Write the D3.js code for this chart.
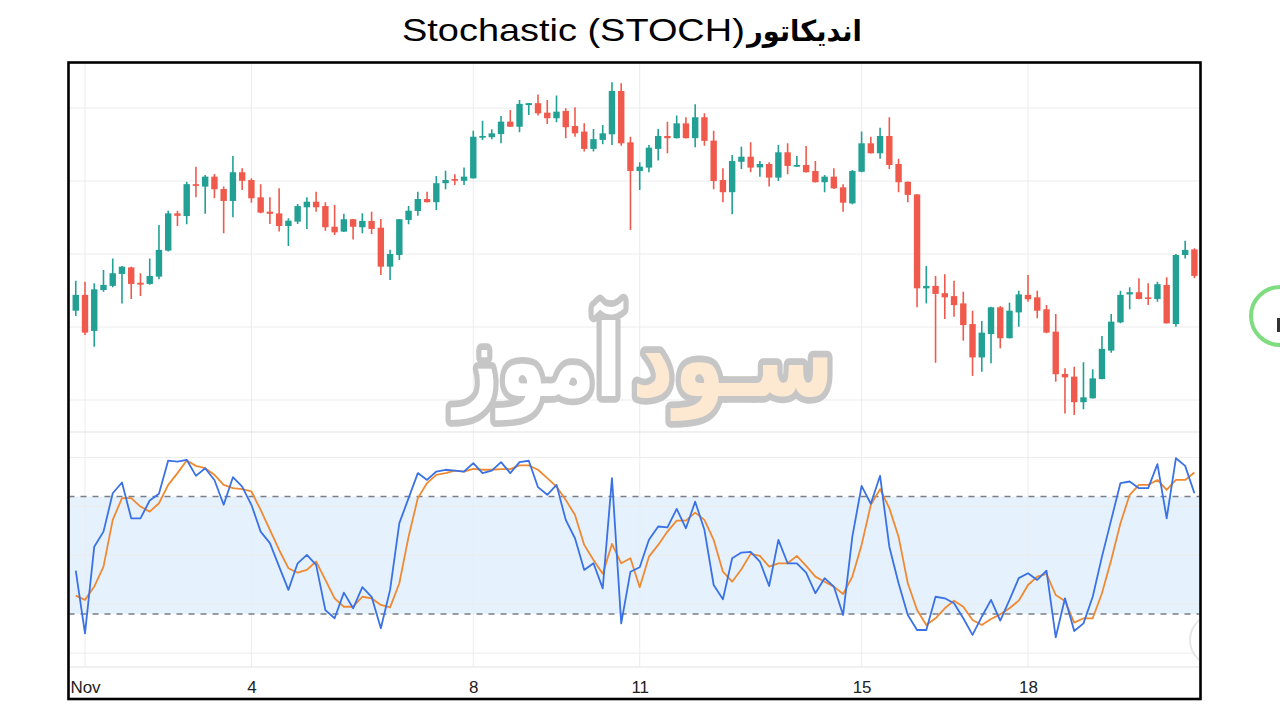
<!DOCTYPE html>
<html><head><meta charset="utf-8">
<script src="https://cdn.jsdelivr.net/npm/d3@7"></script>
<style>html,body{margin:0;padding:0;background:#fff;} svg{display:block}</style>
</head><body>
<svg id="c" width="1280" height="720"></svg>
<script>
// 4-hour candles, first one is Oct 31 20:00 UTC
const startTime = Date.UTC(2021, 9, 31, 20);
const stepHours = 4;
const openP = [59670,60320,58840,60520,60690,61180,61450,60820,60770,61070,62140,63670,63560,64870,64770,65180,64670,64180,65360,65040,64330,63740,63670,63150,63330,63920,64150,63970,63120,62920,63430,63100,63360,63080,61480,61960,63400,63770,64260,64130,64910,65080,65010,65110,66780,66800,66930,67440,67230,68120,68200,67810,67580,67880,67260,67030,66320,66690,66920,68700,66590,65410,65550,66320,66850,66760,67370,66760,67620,66660,65040,64540,65790,66000,65560,65700,65140,66180,65590,65660,65410,64950,65180,64740,64080,65380,66550,66140,66850,65700,64970,64450,60590,60690,60390,60270,59970,59120,57750,58710,59810,58540,59600,60320,60220,59730,58810,57070,56960,55910,56070,56860,58030,59190,60340,60430,60220,60150,60730,59120,61960,62190];
const highP = [60900,60860,60800,61340,61820,61510,61480,61210,61820,63190,63780,63780,64970,65590,65250,65290,64770,66030,65520,65110,64870,64330,64700,63470,64060,64330,64560,64130,64010,63650,63440,63670,63740,63440,62170,63440,63970,64560,64560,65210,65420,65280,65560,67070,67480,67130,67670,67920,68330,68210,68560,68330,68510,67990,68030,67370,67140,67300,69060,69020,66820,65770,66480,67140,67440,67690,67620,68150,67780,67070,65520,66070,66410,66590,65820,65770,66480,66550,66030,66440,65820,65250,65520,64870,65450,67030,66820,67190,67620,65910,64980,64460,61510,61100,61170,60900,60450,59670,59250,59830,59860,60000,60490,61140,60490,59900,59530,57300,57370,57550,57260,58630,59530,60490,60630,61000,60800,60860,61040,62000,62550,62240];
const lowP = [59450,58670,58190,60450,60630,59970,60150,60270,60740,60960,62100,63150,63220,64330,63650,64290,62850,63510,64630,64110,63680,63230,62920,62330,63230,63030,63740,62960,62780,62900,62600,62850,62820,61140,60930,61750,63220,63570,64120,63810,64660,64840,64840,65100,66690,66720,66550,67220,67000,67710,67690,67340,67410,66760,66820,66210,66210,66510,66480,66450,62990,64630,65360,65840,66140,66750,66750,66390,66450,64660,64130,63630,65490,65360,65180,64770,65000,65280,65580,65350,64940,64540,64670,63740,64040,65360,66130,65910,65490,64540,64130,59810,59970,57530,59330,59420,58440,56990,57160,57510,58120,58530,59010,60040,59360,58740,56750,55450,55380,55620,56060,56850,57940,59150,59730,60140,59900,60040,59140,59010,61820,61000];
const closeP = [60320,58770,60550,60730,61210,61480,60770,60740,61100,62170,63670,63570,64870,64800,65180,64660,64180,65360,65010,64290,63700,63650,63150,63370,63970,64150,63920,63100,62890,63430,63120,63360,63030,61480,62000,63430,63780,64260,64130,64910,65040,65010,65180,66820,66850,66960,67440,67230,68170,68200,67780,67580,67850,67210,66960,66320,66720,66960,68700,66550,65410,65590,66370,66850,66760,67370,66760,67620,66650,65000,64540,65820,66000,65550,65700,65140,66180,65620,65660,65360,64950,65180,64700,64110,65410,66550,66140,66850,65660,64950,64430,60590,60690,60360,60220,59900,59080,57750,58770,59810,58540,59670,60340,60140,59670,58770,57060,56930,55910,56110,56890,58100,59220,60320,60430,60150,60160,60760,59150,61960,62170,61100];
const stochK = [42.1,10.1,54.4,62.1,81.7,87.2,68.9,68.9,78.0,81.4,98.4,97.9,98.8,90.6,94.5,88.5,75.8,89.9,85.1,75.8,62.1,56.2,44.2,32.3,45.9,50.2,45.1,22.0,17.8,30.9,22.9,33.7,28.8,12.7,32.3,66.4,79.2,92.0,88.5,92.8,93.7,93.3,92.8,97.1,92.0,93.3,97.6,92.0,97.6,98.3,84.8,80.9,86.0,68.1,58.7,42.5,45.9,33.1,89.4,15.2,41.6,43.9,57.9,64.7,64.3,73.7,63.8,77.4,63.0,34.8,27.5,48.5,51.4,51.7,46.8,34.3,57.9,45.9,45.9,41.1,30.6,38.3,34.0,19.5,59.5,85.5,76.3,90.6,54.4,35.7,19.5,11.8,11.8,28.8,28.0,25.5,17.8,9.3,18.6,27.2,16.6,27.2,38.3,40.8,37.4,42.1,8.1,28.0,11.3,15.2,28.8,49.3,68.1,86.9,87.7,84.3,84.3,96.6,68.9,99.6,95.7,81.7];
const stochD = [29.4,27.2,34.0,44.2,68.1,79.2,79.2,74.9,72.3,76.6,86.0,92.0,98.4,95.7,94.5,91.1,86.0,84.3,83.8,82.6,73.2,63.0,52.7,43.4,41.1,42.5,46.8,37.4,28.0,23.7,23.7,28.8,28.0,24.6,23.4,35.7,59.5,79.2,86.9,91.1,92.0,93.3,92.8,94.2,93.7,93.7,94.0,94.0,95.9,95.9,93.7,89.4,85.1,78.3,70.6,55.3,47.6,40.5,55.8,45.9,48.5,33.7,49.3,55.3,62.1,67.7,67.7,71.8,68.1,57.9,41.6,36.5,42.9,50.7,49.7,44.2,45.9,45.9,49.7,44.6,39.1,36.5,34.0,30.2,39.1,55.3,75.8,83.8,74.1,59.5,35.7,22.0,14.4,17.8,22.9,26.8,23.7,16.9,14.4,17.4,19.8,22.9,26.8,34.8,39.1,40.5,29.7,26.6,15.6,17.8,17.8,30.6,47.6,66.4,80.9,86.0,86.0,88.5,83.4,88.5,88.5,92.3];
const tickDays = [1, 4, 8, 11, 15, 18];
const tickLabels = ["Nov", "4", "8", "11", "15", "18"];
const priceTicks = [56000, 59000, 62000, 65000, 68000];
const stochTicks = [0, 25, 50, 75, 100];
const bandLevels = [20, 80];
const titleLatin = "Stochastic (STOCH)";
const titlePersian = "اندیکاتور";
const watermarkRight = "سـود";
const watermarkLeft = "آموز";

const times = openP.map((_, i) => new Date(startTime + i * stepHours * 3600e3));
const candles = openP.map((o, i) => ({t: times[i], o, h: highP[i], l: lowP[i], c: closeP[i]}));

const svg = d3.select("#c");
const FX0 = 68.5, FX1 = 1200.5, FY0 = 62.5, FY1 = 699;
const PT = 63, PB = 432, SB = 667;

const x = d3.scaleUtc()
  .domain([new Date(Date.UTC(2021, 10, 1)), new Date(Date.UTC(2021, 10, 18))])
  .range([85, 1028]);
const yP = d3.scaleLinear().domain([54685, 69850]).range([PB, PT]);
const yS = d3.scaleLinear().domain([-7.1, 113]).range([SB, PB]);

function fitWidth(g, textSel, x0, x1, yBase, sy) {
  const b = textSel.node().getBBox();
  const sx = (x1 - x0) / b.width;
  g.attr("transform", `translate(${x0 - b.x * sx},${yBase}) scale(${sx},${sy || 1})`);
}

svg.append("rect").attr("width", 1280).attr("height", 720).attr("fill", "#fff");

const defs = svg.append("defs");
defs.append("clipPath").attr("id", "plotClip").append("rect")
  .attr("x", FX0 + 1).attr("y", FY0 + 1).attr("width", FX1 - FX0 - 2).attr("height", FY1 - FY0 - 2);

const plot = svg.append("g").attr("clip-path", "url(#plotClip)");

plot.append("rect")
  .attr("x", FX0).attr("width", FX1 - FX0)
  .attr("y", yS(bandLevels[1])).attr("height", yS(bandLevels[0]) - yS(bandLevels[1]))
  .attr("fill", "#e5f1fc");

const gridColor = "#ececec";
plot.selectAll(".hgp").data(priceTicks).join("line")
  .attr("x1", FX0).attr("x2", FX1).attr("y1", d => yP(d)).attr("y2", d => yP(d))
  .attr("stroke", gridColor).attr("stroke-width", 1);
plot.selectAll(".hgs").data(stochTicks).join("line")
  .attr("x1", FX0).attr("x2", FX1).attr("y1", d => yS(d)).attr("y2", d => yS(d))
  .attr("stroke", gridColor).attr("stroke-width", 1);
const tickDates = tickDays.map(d => new Date(Date.UTC(2021, 10, d)));
plot.selectAll(".vg").data(tickDates).join("line")
  .attr("x1", d => x(d)).attr("x2", d => x(d)).attr("y1", PT).attr("y2", SB)
  .attr("stroke", gridColor).attr("stroke-width", 1);
plot.append("line").attr("x1", FX0).attr("x2", FX1).attr("y1", PB).attr("y2", PB)
  .attr("stroke", "#e2e2e2").attr("stroke-width", 1.2);
plot.append("line").attr("x1", FX0).attr("x2", FX1).attr("y1", SB).attr("y2", SB)
  .attr("stroke", "#e2e2e2").attr("stroke-width", 1.2);

plot.selectAll(".bl").data(bandLevels).join("line")
  .attr("x1", FX0).attr("x2", FX1).attr("y1", d => yS(d)).attr("y2", d => yS(d))
  .attr("stroke", "#7a7d86").attr("stroke-width", 1.4).attr("stroke-dasharray", "6 6");

function wmWord(txt, fill, x0, x1, yBase, size) {
  const g = plot.append("g");
  const t = g.append("text").attr("x", 0).attr("y", 0).attr("direction", "rtl")
    .attr("font-family", "DejaVu Sans").attr("font-weight", "bold").attr("font-size", size)
    .attr("fill", fill).attr("stroke", "#c6c6c6").attr("stroke-width", 12)
    .attr("stroke-linejoin", "round").attr("paint-order", "stroke")
    .attr("vector-effect", "non-scaling-stroke").text(txt);
  fitWidth(g, t, x0, x1, yBase, 1);
}
wmWord(watermarkRight, "#fde9d2", 632, 834, 396, 104);
wmWord(watermarkLeft, "#ffffff", 450, 624, 396, 100);

const lineS = d3.line().x((d, i) => x(times[i])).y(d => yS(d));
plot.append("path").datum(stochD).attr("d", lineS).attr("fill", "none")
  .attr("stroke", "#f08a32").attr("stroke-width", 1.8).attr("stroke-linejoin", "round");
plot.append("path").datum(stochK).attr("d", lineS).attr("fill", "none")
  .attr("stroke", "#3a72e6").attr("stroke-width", 1.8).attr("stroke-linejoin", "round");

const up = "#22a094", down = "#f05a4c";
const cg = plot.append("g");
const bw = 6.4;
cg.selectAll(".wick").data(candles).join("line")
  .attr("x1", d => x(d.t)).attr("x2", d => x(d.t))
  .attr("y1", d => yP(d.h)).attr("y2", d => yP(d.l))
  .attr("stroke", d => d.c >= d.o ? up : down).attr("stroke-width", 1.6);
cg.selectAll(".body").data(candles).join("rect")
  .attr("x", d => x(d.t) - bw / 2).attr("width", bw)
  .attr("y", d => yP(Math.max(d.o, d.c)))
  .attr("height", d => Math.max(1.6, Math.abs(yP(d.o) - yP(d.c))))
  .attr("fill", d => d.c >= d.o ? up : down);

plot.append("circle").attr("cx", 1216).attr("cy", 640).attr("r", 26)
  .attr("fill", "#fff").attr("stroke", "#e6e6e6").attr("stroke-width", 2);

const ax = svg.append("g").attr("transform", `translate(0,${SB})`)
  .call(d3.axisBottom(x).tickValues(tickDates).tickFormat((d, i) => tickLabels[i]).tickSize(0).tickPadding(14));
ax.select(".domain").remove();
ax.selectAll("text").attr("font-family", "Liberation Sans, Arial, sans-serif")
  .attr("font-size", 17).attr("fill", "#222");

svg.append("rect").attr("x", FX0).attr("y", FY0).attr("width", FX1 - FX0).attr("height", FY1 - FY0)
  .attr("fill", "none").attr("stroke", "#000").attr("stroke-width", 2.6);

const tgL = svg.append("g");
const ttL = tgL.append("text").attr("x", 0).attr("y", 0)
  .attr("font-family", "Liberation Sans, Arial, sans-serif").attr("font-size", 31)
  .attr("fill", "#000").text(titleLatin);
fitWidth(tgL, ttL, 402, 745, 41, 1);
const tgP = svg.append("g");
const ttP = tgP.append("text").attr("x", 0).attr("y", 0).attr("direction", "rtl")
  .attr("font-family", "DejaVu Sans").attr("font-weight", "bold").attr("font-size", 29)
  .attr("fill", "#000").text(titlePersian);
fitWidth(tgP, ttP, 745, 862, 41, 1);

svg.append("circle").attr("cx", 1280).attr("cy", 316).attr("r", 29)
  .attr("fill", "#fff").attr("stroke", "#80dc80").attr("stroke-width", 4);
svg.append("rect").attr("x", 1277).attr("y", 318).attr("width", 3).attr("height", 14).attr("fill", "#333");
</script>
</body></html>
